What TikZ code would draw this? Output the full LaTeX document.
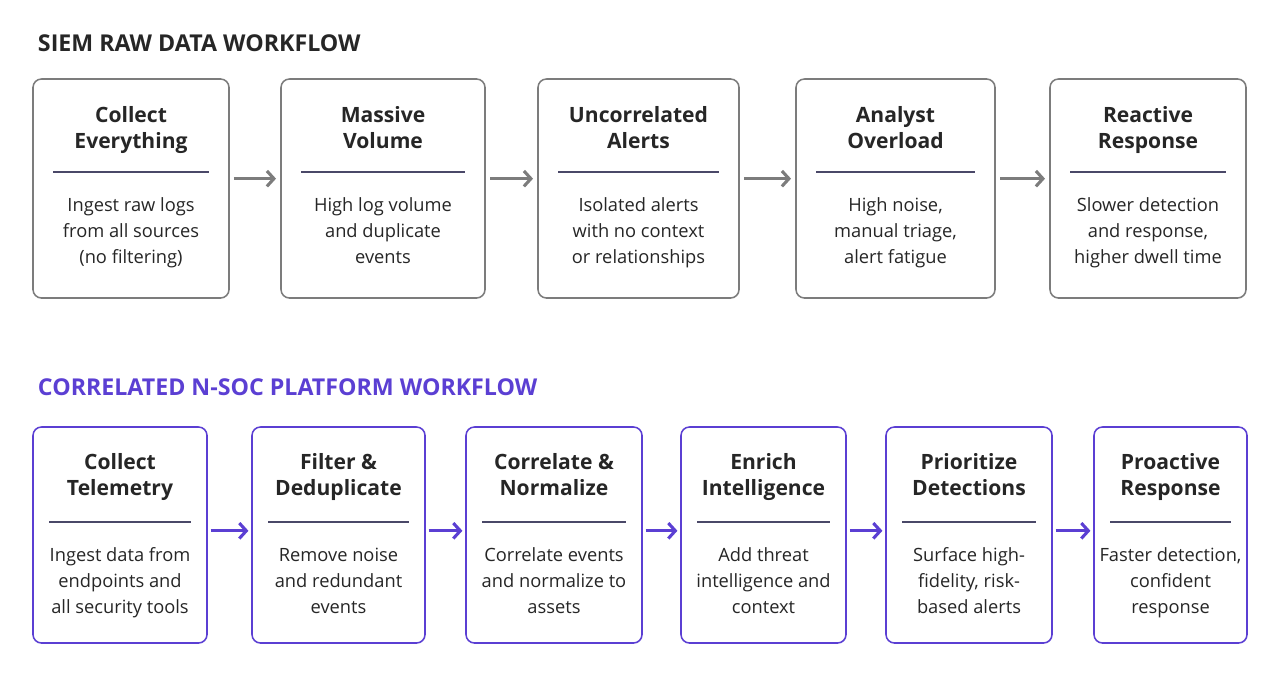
\documentclass[tikz,border=0pt]{standalone}
\usepackage{fontspec}
\setmainfont{Open Sans}
\usetikzlibrary{positioning,arrows.meta}
\definecolor{siemgray}{HTML}{7C7C7C}
\definecolor{socpurple}{HTML}{5B3FD3}
\definecolor{rulegray}{HTML}{4A4868}
\begin{document}
\begin{tikzpicture}[x=0.025cm,y=-0.025cm,
    box/.style={draw,rounded corners=6pt,line width=1.1pt,fill=white},
    title/.style={anchor=north,align=center,font=\fontsize{15}{18.5}\selectfont\bfseries,text=black!85},
    body/.style={anchor=north,align=center,font=\fontsize{13}{18.5}\selectfont,text=black!85},
    head/.style={anchor=west,font=\fontsize{16.5}{20}\selectfont\bfseries},
    flow/.style={-{Straight Barb[length=5pt,width=11pt]},line width=2.2pt}]
  \useasboundingbox (0,0) rectangle (1280,677);
  % raw SIEM row
  \node[head,text=black!85] (headsiem) at (33,43) {SIEM RAW DATA WORKFLOW};
  \foreach \n/\xa/\xb/\t/\b in {1/33/229/{Collect\\Everything}/{Ingest raw logs\\from all sources\\(no filtering)},
      2/281/485/{Massive\\Volume}/{High log volume\\and duplicate\\events},
      3/538/739/{Uncorrelated\\Alerts}/{Isolated alerts\\with no context\\or relationships},
      4/796/995/{Analyst\\Overload}/{High noise,\\manual triage,\\alert fatigue},
      5/1050/1246/{Reactive\\Response}/{Slower detection\\and response,\\higher dwell time}} {
    \node[box,draw=siemgray,minimum width={(\xb-\xa)*0.025cm},minimum height={219*0.025cm}]
      (s\n) at ({(\xa+\xb)/2},188.5) {};
    \node[title] (st\n) at ({(\xa+\xb)/2},99) {\strut\t};
    \draw[rulegray,line width=0.8pt] (\xa+20,172) -- (\xb-20,172);
    \node[body] (sb\n) at ({(\xa+\xb)/2},188) {\strut\b};
  }
  \foreach \i/\j in {1/2,2/3,3/4,4/5}
    \draw[flow,siemgray] ([xshift=3pt,yshift=7pt]s\i.east) -- ([xshift=-3pt,yshift=7pt]s\j.west);
  % correlated row
  \node[head,text=socpurple] (headsoc) at (33,387) {CORRELATED N-SOC PLATFORM WORKFLOW};
  \foreach \n/\xa/\xb/\t/\b in {1/33/207/{Collect\\Telemetry}/{Ingest data from\\endpoints and\\all security tools},
      2/252/425/{Filter \&\\Deduplicate}/{Remove noise\\and redundant\\events},
      3/466/642/{Correlate \&\\Normalize}/{Correlate events\\and normalize to\\assets},
      4/681/846/{Enrich\\Intelligence}/{Add threat\\intelligence and\\context},
      5/886/1052/{Prioritize\\Detections}/{Surface high-\\fidelity, risk-\\based alerts},
      6/1094/1247/{Proactive\\Response}/{Faster detection,\\confident\\response}} {
    \node[box,draw=socpurple,minimum width={(\xb-\xa)*0.025cm},minimum height={216*0.025cm}]
      (c\n) at ({(\xa+\xb)/2},535) {};
    \node[title] (ct\n) at ({(\xa+\xb)/2},446) {\strut\t};
    \draw[rulegray,line width=0.8pt] (\xa+16,522) -- (\xb-16,522);
    \node[body] (cb\n) at ({(\xa+\xb)/2},538) {\strut\b};
  }
  \foreach \i/\j in {1/2,2/3,3/4,4/5,5/6}
    \draw[flow,socpurple] ([xshift=2pt,yshift=3pt]c\i.east) -- ([xshift=-2pt,yshift=3pt]c\j.west);
\end{tikzpicture}
\end{document}
